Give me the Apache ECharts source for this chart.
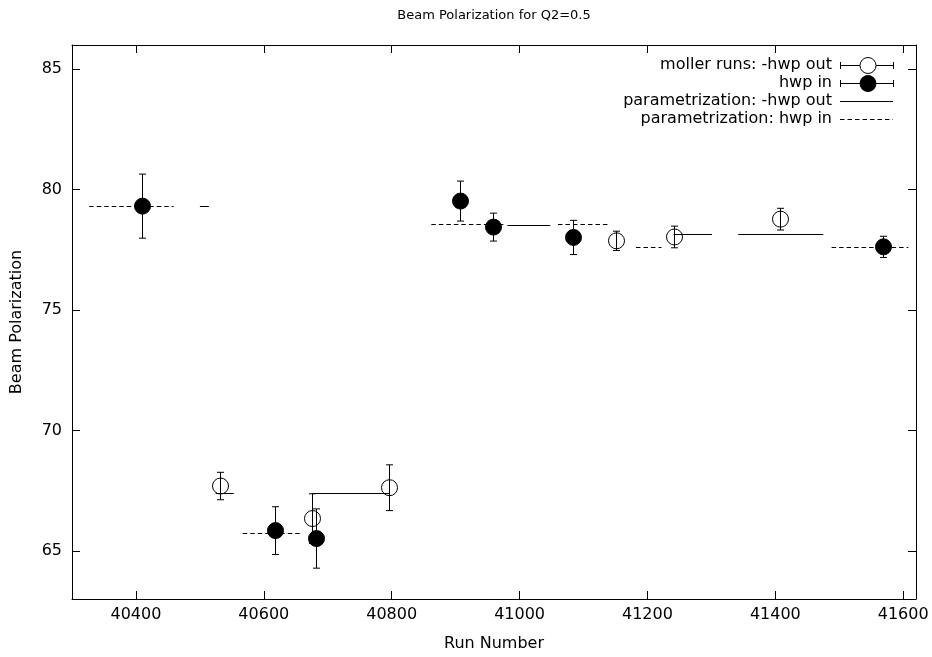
<!DOCTYPE html>
<html>
<head>
<meta charset="utf-8">
<script src="https://cdn.jsdelivr.net/npm/echarts@6/dist/echarts.min.js"></script>
<style>
html,body{margin:0;padding:0;background:#fff;}
#chart{width:932px;height:657px;}
</style>
</head>
<body>
<div id="chart"></div>
<script>
// ---- data ----
var xTicks = [40400, 40600, 40800, 41000, 41200, 41400, 41600];
var yTicks = [65, 70, 75, 80, 85];

// moller runs: -hwp out (open circles)
var outRuns = [40532, 40676, 40796, 41151, 41241, 41407];
var outPol  = [67.69, 66.34, 67.62, 77.87, 78.03, 78.77];
var outErr  = [0.57, 1.03, 0.95, 0.40, 0.45, 0.45];

// hwp in (filled circles)
var inRuns = [40410, 40618, 40682, 40907, 40958, 41084, 41568];
var inPol  = [79.31, 65.84, 65.51, 79.52, 78.44, 78.01, 77.62];
var inErr  = [1.33, 0.99, 1.23, 0.83, 0.58, 0.71, 0.44];

// parametrization: -hwp out (solid segments)
var outParStart = [40500, 40525, 40676, 40981, 41241, 41342];
var outParEnd   = [40514, 40553, 40796, 41048, 41301, 41475];
var outParVal   = [79.3, 67.41, 67.41, 78.52, 78.15, 78.15];

// parametrization: hwp in (dashed segments)
var inParStart = [40327, 40567, 40862, 41060, 41182, 41488];
var inParEnd   = [40459, 40660, 40975, 41140, 41222, 41608];
var inParVal   = [79.3, 65.72, 78.55, 78.55, 77.62, 77.62];

var legendNames = ['moller runs: -hwp out', 'hwp in', 'parametrization: -hwp out', 'parametrization: hwp in'];
var titleText = 'Beam Polarization for Q2=0.5';
var xName = 'Run Number';
var yName = 'Beam Polarization';

// ---- build ----
var FONT = '"DejaVu Sans", Verdana, sans-serif';
var FS = 16;
function zip3(a, b, c) { return a.map(function (v, i) { return [v, b[i], c[i]]; }); }

function pointRenderer(filled) {
  return function (params, api) {
    var x = api.value(0), y = api.value(1), e = api.value(2);
    var c = api.coord([x, y]);
    var t = api.coord([x, y + e]);
    var b = api.coord([x, y - e]);
    var cx = Math.round(c[0]) + 0.5;
    var ls = { stroke: '#000', lineWidth: 1 };
    return {
      type: 'group',
      children: [
        { type: 'line', shape: { x1: cx, y1: t[1], x2: cx, y2: b[1] }, style: ls },
        { type: 'line', shape: { x1: cx - 3.5, y1: t[1], x2: cx + 3.5, y2: t[1] }, style: ls },
        { type: 'line', shape: { x1: cx - 3.5, y1: b[1], x2: cx + 3.5, y2: b[1] }, style: ls },
        { type: 'circle', shape: { cx: cx, cy: c[1], r: 8 },
          style: filled ? { fill: '#000', stroke: '#000', lineWidth: 1 } : { fill: null, stroke: '#000', lineWidth: 1 } }
      ]
    };
  };
}
function segRenderer(dashed) {
  return function (params, api) {
    var p1 = api.coord([api.value(0), api.value(2)]);
    var p2 = api.coord([api.value(1), api.value(2)]);
    var y = Math.round(p1[1]) + 0.5;
    return {
      type: 'line',
      shape: { x1: p1[0], y1: y, x2: p2[0], y2: y },
      style: { stroke: '#000', lineWidth: 1, lineDash: dashed ? [4.5, 3] : null }
    };
  };
}

function tickCfg(vals) {
  return { show: true, inside: true, length: 8, lineStyle: { color: '#000', width: 1 }, customValues: vals };
}
var lineCfg = { show: true, onZero: false, lineStyle: { color: '#000', width: 1 } };
function plainNum(v) { return String(v); }

var chart = echarts.init(document.getElementById('chart'), null, { renderer: 'canvas' });

var lx = 832, ix1 = 840, ix2 = 893, icx = 868;
var rows = [65, 82.5, 100.5, 119];
var ls = { stroke: '#000', lineWidth: 1 };
var gfx = [];
gfx.push({ type: 'text', x: 494, y: 16,
  style: { text: titleText, fill: '#000', font: '13px ' + FONT, textAlign: 'center', textVerticalAlign: 'middle' } });
legendNames.forEach(function (n, i) {
  gfx.push({ type: 'text', x: lx, y: rows[i],
    style: { text: n, fill: '#000', font: FS + 'px ' + FONT, textAlign: 'right', textVerticalAlign: 'middle' } });
});
[0, 1].forEach(function (i) {
  var y = Math.round(rows[i]) + 0.5;
  gfx.push({ type: 'line', shape: { x1: ix1, y1: y, x2: icx - 8, y2: y }, style: ls });
  gfx.push({ type: 'line', shape: { x1: icx + 8, y1: y, x2: ix2, y2: y }, style: ls });
  gfx.push({ type: 'line', shape: { x1: ix1 + 0.5, y1: y - 3.5, x2: ix1 + 0.5, y2: y + 3.5 }, style: ls });
  gfx.push({ type: 'line', shape: { x1: ix2 + 0.5, y1: y - 3.5, x2: ix2 + 0.5, y2: y + 3.5 }, style: ls });
  gfx.push({ type: 'circle', shape: { cx: icx, cy: y, r: 8 },
    style: i === 1 ? { fill: '#000', stroke: '#000', lineWidth: 1 } : { fill: '#fff', stroke: '#000', lineWidth: 1 } });
});
gfx.push({ type: 'line', shape: { x1: ix1, y1: Math.round(rows[2]) + 0.5, x2: ix2, y2: Math.round(rows[2]) + 0.5 }, style: ls });
gfx.push({ type: 'line', shape: { x1: ix1, y1: Math.round(rows[3]) + 0.5, x2: ix2, y2: Math.round(rows[3]) + 0.5 },
  style: { stroke: '#000', lineWidth: 1, lineDash: [4.5, 3] } });

var labelStyle = { color: '#000', fontSize: FS, fontFamily: FONT };

chart.setOption({
  animation: false,
  backgroundColor: '#fff',
  grid: { left: 72, right: 16, top: 45, bottom: 58, containLabel: false },
  xAxis: [
    { type: 'value', min: 40300, max: 41620, position: 'bottom',
      name: xName, nameLocation: 'middle', nameGap: 37, nameTextStyle: labelStyle,
      axisLine: lineCfg, splitLine: { show: false }, axisTick: tickCfg(xTicks),
      axisLabel: Object.assign({ margin: 8, customValues: xTicks, formatter: plainNum }, labelStyle) },
    { type: 'value', min: 40300, max: 41620, position: 'top',
      axisLine: lineCfg, splitLine: { show: false }, axisTick: tickCfg(xTicks),
      axisLabel: { show: false } }
  ],
  yAxis: [
    { type: 'value', min: 63, max: 86, position: 'left',
      name: yName, nameLocation: 'middle', nameGap: 47, nameTextStyle: labelStyle,
      axisLine: lineCfg, splitLine: { show: false }, axisTick: tickCfg(yTicks),
      axisLabel: Object.assign({ margin: 10, customValues: yTicks, formatter: plainNum }, labelStyle) },
    { type: 'value', min: 63, max: 86, position: 'right',
      axisLine: lineCfg, splitLine: { show: false }, axisTick: tickCfg(yTicks),
      axisLabel: { show: false } }
  ],
  graphic: gfx,
  series: [
    { name: legendNames[0], type: 'custom', xAxisIndex: 0, yAxisIndex: 0,
      data: zip3(outRuns, outPol, outErr), encode: { x: 0, y: 1 }, renderItem: pointRenderer(false), z: 3 },
    { name: legendNames[1], type: 'custom', xAxisIndex: 0, yAxisIndex: 0,
      data: zip3(inRuns, inPol, inErr), encode: { x: 0, y: 1 }, renderItem: pointRenderer(true), z: 3 },
    { name: legendNames[2], type: 'custom', xAxisIndex: 0, yAxisIndex: 0,
      data: zip3(outParStart, outParEnd, outParVal), encode: { x: [0, 1], y: 2 }, renderItem: segRenderer(false), z: 4 },
    { name: legendNames[3], type: 'custom', xAxisIndex: 0, yAxisIndex: 0,
      data: zip3(inParStart, inParEnd, inParVal), encode: { x: [0, 1], y: 2 }, renderItem: segRenderer(true), z: 4 }
  ]
});
</script>
</body>
</html>
